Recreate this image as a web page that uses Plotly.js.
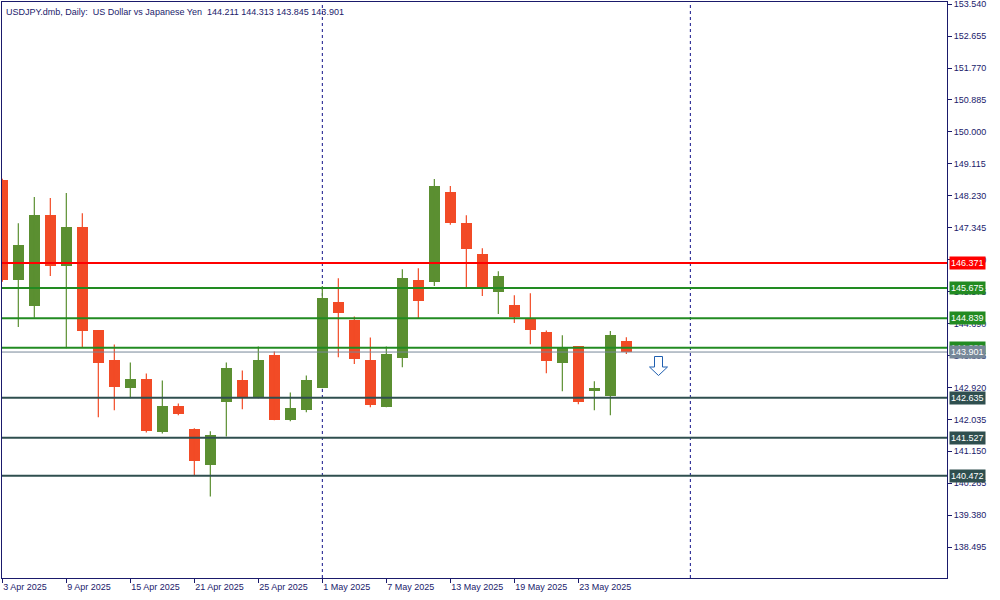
<!DOCTYPE html>
<html>
<head>
<meta charset="utf-8">
<script src="https://cdn.plot.ly/plotly-3.0.1.min.js"></script>
<style>html,body{margin:0;padding:0;background:#fff;}#chart{width:1000px;height:600px;}</style>
</head>
<body>
<div id="chart"></div>
<script>
// Trading days (bars)
const dates = ['3 Apr 2025','4 Apr 2025','7 Apr 2025','8 Apr 2025','9 Apr 2025','10 Apr 2025','11 Apr 2025','14 Apr 2025','15 Apr 2025','16 Apr 2025',
  '17 Apr 2025','18 Apr 2025','21 Apr 2025','22 Apr 2025','23 Apr 2025','24 Apr 2025','25 Apr 2025','28 Apr 2025','29 Apr 2025','30 Apr 2025',
  '1 May 2025','2 May 2025','5 May 2025','6 May 2025','7 May 2025','8 May 2025','9 May 2025','12 May 2025','13 May 2025','14 May 2025',
  '15 May 2025','16 May 2025','19 May 2025','20 May 2025','21 May 2025','22 May 2025','23 May 2025','26 May 2025','27 May 2025','28 May 2025'];
const open  = [148.667,145.897,145.175,147.694,146.286,147.361,144.500,143.694,142.897,143.167,
               141.675,142.417,141.758,140.758,142.508,143.139,142.647,143.806,142.008,142.286,
               142.897,145.278,144.778,143.694,142.369,143.731,145.889,145.842,148.333,147.472,
               146.611,145.564,145.194,144.842,144.444,143.592,144.064,142.814,142.675,144.211];
const high  = [148.700,147.472,148.194,148.167,148.306,147.750,144.500,144.111,143.611,143.306,
               143.111,142.472,141.786,141.703,143.611,143.389,144.056,143.917,142.778,143.250,
               145.731,145.944,144.889,144.306,144.056,146.194,146.222,148.694,148.500,147.694,
               146.778,146.139,145.472,145.528,144.500,144.369,144.064,143.092,144.481,144.313];
const low   = [145.850,144.592,144.853,146.008,144.008,144.036,142.092,142.286,142.619,141.675,
               141.647,142.147,140.481,139.897,141.564,142.314,142.619,142.008,141.981,142.231,
               142.897,143.758,143.567,142.369,142.369,143.481,144.842,145.731,147.425,145.647,
               145.453,144.953,144.703,144.119,143.314,142.814,142.453,142.286,142.147,143.845];
const close = [145.897,146.861,147.694,146.286,147.361,144.481,143.592,142.925,143.167,141.703,
               142.417,142.175,140.869,141.611,143.472,142.619,143.667,142.008,142.361,143.139,
               145.389,144.981,143.706,142.425,143.833,145.944,145.314,148.500,147.481,146.764,
               145.675,146.000,144.869,144.508,143.647,144.036,142.508,142.897,144.369,143.901];

const tickDates = ['3 Apr 2025','9 Apr 2025','15 Apr 2025','21 Apr 2025','25 Apr 2025','1 May 2025','7 May 2025','13 May 2025','19 May 2025','23 May 2025'];
const priceTicks = ['138.495','139.380','140.265','141.150','142.035','142.920','143.805','144.690','145.575','146.460','147.345','148.230','149.115','150.000','150.885','151.770','152.655','153.540'];
const levelValues = [146.371, 145.675, 144.839, 144.020, 142.635, 141.527, 140.472];
const levelLabels = ['146.371','145.675','144.839','144.020','142.635','141.527','140.472'];
const levelColors = ['#ff0000','#228b22','#228b22','#228b22','#2f4f4f','#2f4f4f','#2f4f4f'];
const bidValue = 143.901, bidLabel = '143.901';
const separators = ['1 May 2025', '3 Jun 2025'];
const titleText = 'USDJPY.dmb, Daily:\u00a0 US Dollar vs Japanese Yen\u00a0 144.211 144.313 143.845 143.901';

const BULL = '#5b8f31', BEAR = '#f24b26', NAVY = '#1a1a6b';
const FONT = 'Liberation Sans, Arial, sans-serif';
const xs = dates.map((d, i) => i);
const isBull = xs.map(i => close[i] >= open[i]);

function wickTrace(bull) {
  const x = [], y = [];
  xs.forEach(i => { if (isBull[i] === bull) { x.push(i, i, null); y.push(low[i], high[i], null); } });
  return { type: 'scatter', mode: 'lines', x, y, line: { color: bull ? BULL : BEAR, width: 1.2 }, hoverinfo: 'skip', showlegend: false };
}
const bodyTrace = {
  type: 'bar', x: xs,
  base: xs.map(i => Math.min(open[i], close[i])),
  y: xs.map(i => Math.max(Math.abs(close[i] - open[i]), 0.03)),
  width: 0.69,
  marker: { color: xs.map(i => isBull[i] ? BULL : BEAR), line: { width: 0 } },
  showlegend: false, hoverinfo: 'skip'
};

const sepIndex = s => { const k = dates.indexOf(s); return k >= 0 ? k : 43; };
const shapes = [];
separators.forEach(s => shapes.push({ type: 'line', xref: 'x', yref: 'paper', x0: sepIndex(s), x1: sepIndex(s), y0: 0, y1: 1, line: { color: '#14148a', width: 1, dash: '3px,3px' }, layer: 'below' }));
levelValues.forEach((v, k) => shapes.push({ type: 'line', xref: 'paper', yref: 'y', x0: 0, x1: 1, y0: v, y1: v, line: { color: levelColors[k], width: 2 }, layer: 'above' }));
shapes.push({ type: 'line', xref: 'paper', yref: 'y', x0: 0, x1: 1, y0: bidValue, y1: bidValue, line: { color: '#778899', width: 1 }, layer: 'above' });
// sell arrow marker (hollow down arrow)
const px = p => (p - 2) / 945, py = p => 1 - (p - 2) / 576;
shapes.push({ type: 'path', xref: 'paper', yref: 'paper',
  path: `M ${px(654.5)} ${py(356.5)} L ${px(662.5)} ${py(356.5)} L ${px(662.5)} ${py(367)} L ${px(667.5)} ${py(367)} L ${px(658.5)} ${py(375.5)} L ${px(649.5)} ${py(367)} L ${px(654.5)} ${py(367)} Z`,
  line: { color: '#1f5fb0', width: 1 }, fillcolor: '#ffffff' });

const annotations = [{ xref: 'paper', yref: 'paper', x: 0, y: 1, xanchor: 'left', yanchor: 'top', xshift: 2, yshift: -3,
  text: titleText, showarrow: false, font: { family: FONT, size: 9, color: NAVY } }];
const allLabels = levelLabels.map((t, k) => ({ t, v: levelValues[k], c: levelColors[k] })).concat([{ t: bidLabel, v: bidValue, c: '#778899' }]);
allLabels.forEach(L => annotations.push({ xref: 'paper', yref: 'y', x: 1, y: L.v, xanchor: 'left', yanchor: 'middle', xshift: 2,
  text: L.t, showarrow: false, bgcolor: L.c, borderpad: 1, font: { family: FONT, size: 9, color: '#ffffff' } }));

const layout = {
  width: 1000, height: 600,
  margin: { l: 2, r: 53, t: 2, b: 22, pad: 0 },
  paper_bgcolor: '#ffffff', plot_bgcolor: '#ffffff',
  showlegend: false, bargap: 0,
  font: { family: FONT, size: 9, color: NAVY },
  xaxis: {
    range: [-0.02, 59.04], showgrid: false, zeroline: false,
    showline: true, mirror: true, linecolor: NAVY, linewidth: 1,
    ticks: 'outside', ticklen: 4, tickcolor: NAVY,
    tickvals: tickDates.map(d => dates.indexOf(d)), ticktext: tickDates,
    ticklabelposition: 'outside right', ticklabeloverflow: 'allow',
    tickfont: { family: FONT, size: 9, color: NAVY }
  },
  yaxis: {
    side: 'right', range: [137.64, 153.60], showgrid: false, zeroline: false,
    showline: true, mirror: true, linecolor: NAVY, linewidth: 1,
    ticks: 'outside', ticklen: 4, tickcolor: NAVY,
    tickvals: priceTicks.map(Number), ticktext: priceTicks, ticklabeloverflow: 'allow',
    tickfont: { family: FONT, size: 9, color: NAVY }
  },
  shapes, annotations
};

Plotly.newPlot('chart', [wickTrace(true), wickTrace(false), bodyTrace], layout, { staticPlot: true, displayModeBar: false });
</script>
</body>
</html>
